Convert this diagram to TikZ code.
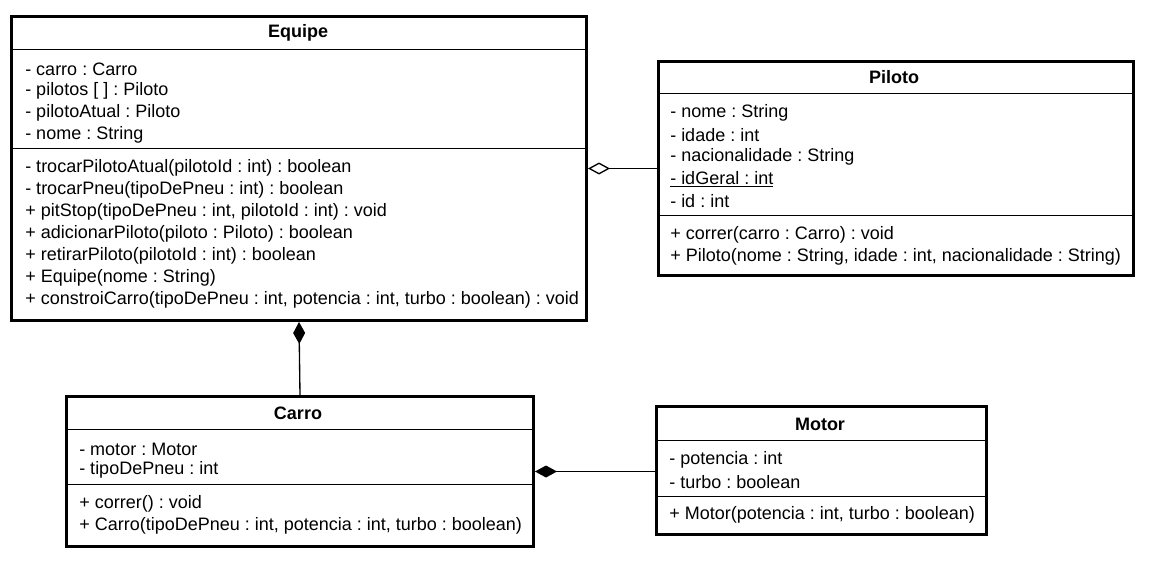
\documentclass[tikz,border=0pt]{standalone}
\usepackage{fontspec}
\setmainfont{Liberation Sans}
\usetikzlibrary{arrows.meta}
\frenchspacing

\tikzset{
  classbox/.style={draw, line width=2.25pt, inner sep=0pt, anchor=north west},
  member/.style={anchor=west, inner sep=0pt, font=\fontsize{13.5}{15}\selectfont},
  classname/.style={inner sep=0pt, font=\bfseries\fontsize{13.5}{15}\selectfont},
  sepline/.style={line width=0.75pt},
  aggr/.style={line width=1pt, {Diamond[open, length=16.5pt, width=9pt, line width=1pt]}-},
  comp/.style={line width=1pt, {Diamond[length=16.5pt, width=9pt]}-},
}

\begin{document}
\begin{tikzpicture}[x=0.75pt,y=0.75pt,yscale=-1,xscale=1]
\useasboundingbox (0,0) rectangle (1168,582);

%Shape: Equipe
\node[classbox, minimum width=431.25pt, minimum height=228pt] (equipe) at (10,15) {};
\draw[sepline] (10,49) -- (586,49);
\draw[sepline] (10,148) -- (586,148);
% Text Node
\node[classname] (eq-name) at (298,33) {Equipe};
\node[member] (eq-a1) at (25,69) {- carro : Carro};
\node[member] (eq-a2) at (25,91) {- pilotos [ ] : Piloto};
\node[member] (eq-a3) at (25,113) {- pilotoAtual : Piloto};
\node[member] (eq-a4) at (25,135) {- nome : String};
\node[member] (eq-m1) at (25,168) {- trocarPilotoAtual(pilotoId : int) : boolean};
\node[member] (eq-m2) at (25,190) {- trocarPneu(tipoDePneu : int) : boolean};
\node[member] (eq-m3) at (25,212) {+ pitStop(tipoDePneu : int, pilotoId : int) : void};
\node[member] (eq-m4) at (25,234) {+ adicionarPiloto(piloto : Piloto) : boolean};
\node[member] (eq-m5) at (25,256) {+ retirarPiloto(pilotoId : int) : boolean};
\node[member] (eq-m6) at (25,278) {+ Equipe(nome : String)};
\node[member] (eq-m7) at (25,300) {+ constroiCarro(tipoDePneu : int, potencia : int, turbo : boolean) : void};

%Shape: Piloto
\node[classbox, minimum width=356.25pt, minimum height=160.5pt] (piloto) at (657,60) {};
\draw[sepline] (657,93) -- (1132,93);
\draw[sepline] (657,215) -- (1132,215);
% Text Node
\node[classname] (pi-name) at (894,77) {Piloto};
\node[member] (pi-a1) at (670,113) {- nome : String};
\node[member] (pi-a2) at (670,135) {- idade : int};
\node[member] (pi-a3) at (670,157) {- nacionalidade : String};
\node[member] (pi-a4) at (670,179) {\underline{- idGeral : int}};
\node[member] (pi-a5) at (670,201) {- id : int};
\node[member] (pi-m1) at (670,235) {+ correr(carro : Carro) : void};
\node[member] (pi-m2) at (670,257) {+ Piloto(nome : String, idade : int, nacionalidade : String)};

%Shape: Carro
\node[classbox, minimum width=350.25pt, minimum height=112.5pt] (carro) at (65,395) {};
\draw[sepline] (65,429) -- (532,429);
\draw[sepline] (65,484) -- (532,484);
% Text Node
\node[classname] (ca-name) at (298,413) {Carro};
\node[member] (ca-a1) at (79,449) {- motor : Motor};
\node[member] (ca-a2) at (79,470) {- tipoDePneu : int};
\node[member] (ca-m1) at (79,504) {+ correr() : void};
\node[member] (ca-m2) at (79,526) {+ Carro(tipoDePneu : int, potencia : int, turbo : boolean)};

%Shape: Motor
\node[classbox, minimum width=247.5pt, minimum height=96pt] (motor) at (655,405) {};
\draw[sepline] (655,440) -- (985,440);
\draw[sepline] (655,496) -- (985,496);
% Text Node
\node[classname] (mo-name) at (820,424) {Motor};
\node[member] (mo-a1) at (669,460) {- potencia : int};
\node[member] (mo-a2) at (669,482) {- turbo : boolean};
\node[member] (mo-m1) at (669,515) {+ Motor(potencia : int, turbo : boolean)};

%Straight Lines
\draw[aggr] (equipe.east) -- (piloto.west);
\draw[comp] (equipe.south) -- (carro.north);
\draw[comp] (carro.east) -- (carro.east -| motor.west);

\end{tikzpicture}
\end{document}
